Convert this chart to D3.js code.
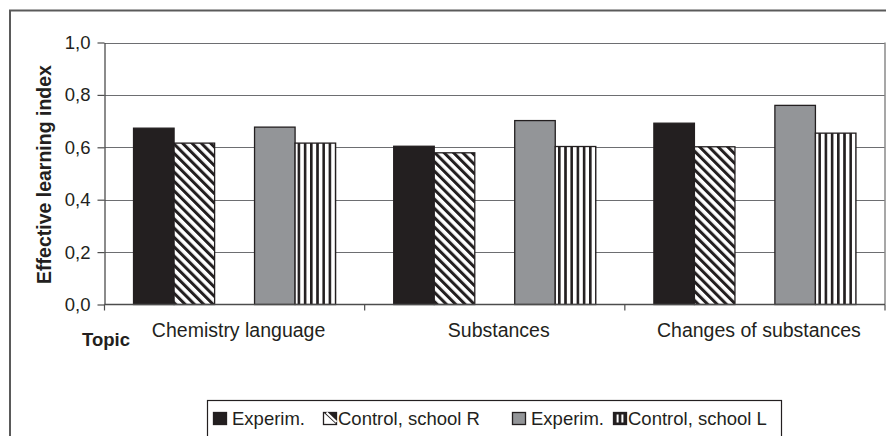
<!DOCTYPE html>
<html>
<head>
<meta charset="utf-8">
<script src="https://cdn.jsdelivr.net/npm/d3@7"></script>
<style>
  html, body { margin: 0; padding: 0; background: #fff; }
  svg { display: block; font-family: "Liberation Sans", Arial, sans-serif; }
</style>
</head>
<body>
<svg id="chart" width="886" height="436"></svg>
<script>
// Topics on the x axis
const categories = ["Chemistry language", "Substances", "Changes of substances"];
// Groups: experimental and control classes at two schools
const seriesNames = ["Experim.", "Control, school R", "Experim.", "Control, school L"];
const seriesKeys = ["expR", "ctrlR", "expL", "ctrlL"];
const expR  = [0.673, 0.604, 0.692];
const ctrlR = [0.616, 0.579, 0.602];
const expL  = [0.677, 0.702, 0.760];
const ctrlL = [0.616, 0.603, 0.654];
const seriesValues = [expR, ctrlR, expL, ctrlL];
const yTicks = [0, 0.2, 0.4, 0.6, 0.8, 1.0];
const yTickLabels = ["0,0", "0,2", "0,4", "0,6", "0,8", "1,0"];
const yTitle = "Effective learning index";
const xTitle = "Topic";

const svg = d3.select("#chart");
const defs = svg.append("defs");
const ink = "#231f20";

// Diagonal hatch (\\\) for school R control
const hatch = defs.append("pattern")
  .attr("id", "hatch")
  .attr("patternUnits", "userSpaceOnUse")
  .attr("width", 6.6).attr("height", 10)
  .attr("patternTransform", "rotate(-45)");
hatch.append("rect").attr("width", 6.6).attr("height", 10).attr("fill", "#fff");
hatch.append("rect").attr("width", 3.0).attr("height", 10).attr("fill", ink);

// Vertical stripes (|||) for school L control
const vstripe = defs.append("pattern")
  .attr("id", "vstripe")
  .attr("patternUnits", "userSpaceOnUse")
  .attr("width", 6.2).attr("height", 10);
vstripe.append("rect").attr("width", 6.2).attr("height", 10).attr("fill", "#fff");
vstripe.append("rect").attr("width", 2.6).attr("height", 10).attr("fill", ink);

const fills = {
  expR: ink,
  ctrlR: "url(#hatch)",
  expL: "#939598",
  ctrlL: "url(#vstripe)"
};

// Outer chart frame
svg.append("path")
  .attr("d", "M10,450 L10,10.5 L900,10.5")
  .attr("fill", "none")
  .attr("stroke", "#5a5a5a")
  .attr("stroke-width", 2);

const plot = { left: 104.5, right: 885, top: 42.5, bottom: 304.5 };

const y = d3.scaleLinear().domain([0, 1]).range([plot.bottom, plot.top]);
const x0 = d3.scaleBand().domain(categories).range([plot.left, plot.right]).padding(0);
// Two school pairs inside each topic band
const pairs = ["R", "L"];
const xPair = d3.scaleBand().domain(pairs).range([0, x0.bandwidth()])
  .paddingInner(0.33).paddingOuter(0.24);
const xIn = d3.scaleBand().domain([0, 1]).range([0, xPair.bandwidth()]).padding(0);

// Horizontal gridlines
svg.append("g")
  .selectAll("line")
  .data(yTicks.filter(d => d > 0))
  .join("line")
  .attr("x1", plot.left).attr("x2", plot.right)
  .attr("y1", d => Math.round(y(d)) + 0.5).attr("y2", d => Math.round(y(d)) + 0.5)
  .attr("stroke", "#6d6e71").attr("stroke-width", 1.2);

// Right edge of the plot area
svg.append("line")
  .attr("x1", plot.right).attr("x2", plot.right)
  .attr("y1", plot.top).attr("y2", plot.bottom)
  .attr("stroke", "#8a8a8a").attr("stroke-width", 1.5);

// Bars
const flat = [];
seriesKeys.forEach((key, si) => {
  categories.forEach((cat, ci) => {
    flat.push({ key, si, cat, value: seriesValues[si][ci] });
  });
});

svg.append("g")
  .selectAll("rect")
  .data(flat)
  .join("rect")
  .attr("x", d => x0(d.cat) + xPair(pairs[Math.floor(d.si / 2)]) + xIn(d.si % 2))
  .attr("y", d => y(d.value))
  .attr("width", xIn.bandwidth())
  .attr("height", d => y(0) - y(d.value))
  .attr("fill", d => fills[d.key])
  .attr("stroke", ink)
  .attr("stroke-width", 1.3);

// Y axis
const yAxis = d3.axisLeft(y)
  .tickValues(yTicks)
  .tickFormat((d, i) => yTickLabels[i])
  .tickSizeInner(7).tickSizeOuter(0).tickPadding(7);
const gy = svg.append("g").attr("transform", `translate(${plot.left},0)`).call(yAxis);
gy.select(".domain").attr("stroke", "#4d4d4d").attr("stroke-width", 1.3);
gy.selectAll(".tick line").attr("stroke", "#4d4d4d").attr("stroke-width", 1.2);
gy.selectAll(".tick text")
  .attr("font-size", 18.5).attr("fill", ink)
  .attr("font-family", "Liberation Sans, Arial, sans-serif");

// X axis: baseline with ticks at band boundaries
svg.append("line")
  .attr("x1", plot.left).attr("x2", plot.right)
  .attr("y1", plot.bottom).attr("y2", plot.bottom)
  .attr("stroke", "#4d4d4d").attr("stroke-width", 1.3);
const bounds = categories.map(c => x0(c)).concat([x0(categories[categories.length - 1]) + x0.bandwidth()]);
svg.append("g").selectAll("line")
  .data(bounds)
  .join("line")
  .attr("x1", d => d).attr("x2", d => d)
  .attr("y1", plot.bottom).attr("y2", plot.bottom + 6)
  .attr("stroke", "#4d4d4d").attr("stroke-width", 1.2);

// Category labels
svg.append("g").selectAll("text")
  .data(categories)
  .join("text")
  .attr("x", d => x0(d) + x0.bandwidth() / 2 + 4)
  .attr("y", 337)
  .attr("text-anchor", "middle")
  .attr("font-size", 19.5)
  .attr("fill", ink)
  .text(d => d);

// Axis titles
svg.append("text")
  .attr("x", 106).attr("y", 346)
  .attr("text-anchor", "middle")
  .attr("font-size", 18.5).attr("font-weight", "bold")
  .attr("fill", ink)
  .text(xTitle);

svg.append("text")
  .attr("transform", `translate(51,${(plot.top + plot.bottom) / 2 + 1}) rotate(-90)`)
  .attr("text-anchor", "middle")
  .attr("font-size", 19.5).attr("font-weight", "bold")
  .attr("fill", ink)
  .text(yTitle);

// Legend
const legend = svg.append("g");
legend.append("rect")
  .attr("x", 207.5).attr("y", 400.5)
  .attr("width", 574).attr("height", 60)
  .attr("fill", "#fff").attr("stroke", ink).attr("stroke-width", 1.2);

const legendX = [213, 323, 512, 613];
const items = legend.selectAll("g.item")
  .data(seriesKeys.map((k, i) => ({ key: k, name: seriesNames[i], x: legendX[i] })))
  .join("g").attr("class", "item")
  .attr("transform", d => `translate(${d.x},412)`);

// Legend swatches: solid fills, or small marks standing in for the patterns
items.each(function (d) {
  const g = d3.select(this);
  const solid = d.key === "expR" || d.key === "expL";
  g.append("rect")
    .attr("x", 0.5).attr("y", 0.5)
    .attr("width", 13).attr("height", 12)
    .attr("fill", solid ? fills[d.key] : (d.key === "ctrlL" ? ink : "#fff"))
    .attr("stroke", ink).attr("stroke-width", 1.3);
  if (d.key === "ctrlR") {
    g.append("path")
      .attr("d", "M0.5,0.5 L13.5,0.5 L13.5,12.5 Z")
      .attr("fill", ink);
    g.append("path")
      .attr("d", "M3.5,0.5 L13.5,10")
      .attr("stroke", "#fff").attr("stroke-width", 2.2);
  }
  if (d.key === "ctrlL") {
    g.append("rect").attr("x", 3.6).attr("y", 2.5).attr("width", 2).attr("height", 8).attr("fill", "#fff");
    g.append("rect").attr("x", 8.4).attr("y", 2.5).attr("width", 2).attr("height", 8).attr("fill", "#fff");
  }
});

items.append("text")
  .attr("x", d => d.key === "ctrlR" || d.key === "ctrlL" ? 15 : 19)
  .attr("y", 13)
  .attr("font-size", 18.5)
  .attr("fill", ink)
  .text(d => d.name);
</script>
</body>
</html>
